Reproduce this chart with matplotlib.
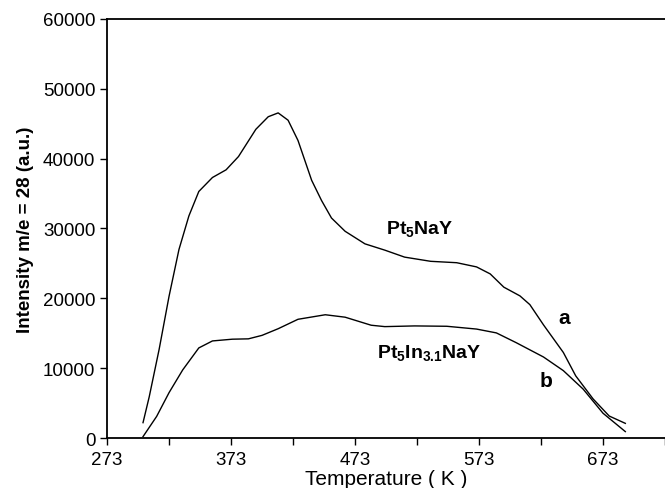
import matplotlib
matplotlib.use("Agg")
import matplotlib.pyplot as plt
import numpy as np

plt.rcParams["font.family"] = ["Liberation Sans", "DejaVu Sans"]
plt.rcParams["mathtext.fontset"] = "custom"
plt.rcParams["mathtext.rm"] = "Liberation Sans"
plt.rcParams["mathtext.bf"] = "Liberation Sans:bold"
plt.rcParams["mathtext.default"] = "bf"

# curve a : Pt5NaY
temp_a = [302, 307, 315, 323, 331, 339, 347, 358, 369, 379, 393, 403, 411, 419,
          427, 438, 446, 454, 465, 481, 497, 513, 534, 555, 571, 582, 593, 606,
          614, 625, 641, 651, 665, 678, 691]
int_a = [2200, 5900, 12700, 20300, 27000, 31800, 35300, 37300, 38400, 40300,
         44200, 46000, 46550, 45500, 42600, 36900, 34000, 31500, 29600, 27800,
         26900, 25900, 25300, 25100, 24500, 23500, 21600, 20350, 19100, 16200,
         12250, 8900, 5600, 3150, 2100]

# curve b : Pt5In3.1NaY
temp_b = [302, 313, 323, 334, 347, 358, 374, 387, 398, 411, 427, 449, 465, 486,
          497, 521, 547, 571, 587, 603, 625, 641, 657, 673, 691]
int_b = [200, 3100, 6500, 9750, 12900, 13900, 14150, 14200, 14700, 15650,
         17000, 17650, 17300, 16150, 15950, 16050, 16000, 15600, 15050, 13650,
         11600, 9650, 7000, 3550, 920]

xticks = [273, 373, 473, 573, 673]
xminor = [323, 423, 523, 623, 723]
yticks = [0, 10000, 20000, 30000, 40000, 50000, 60000]

fig = plt.figure(figsize=(6.65, 4.89), dpi=100)
ax = fig.add_axes([0.161, 0.1022, 0.839, 0.857])

ax.plot(temp_a, int_a, color="black", lw=1.0)
ax.plot(temp_b, int_b, color="black", lw=1.0)

ax.set_xlim(273, 719.4)
ax.set_ylim(0, 60000)
ax.spines["right"].set_visible(False)
for s in ["left", "bottom", "top"]:
    ax.spines[s].set_linewidth(1.3)

ax.set_xticks(xticks)
ax.set_xticks(xminor, minor=True)
ax.set_yticks(yticks)
ax.tick_params(axis="both", which="both", direction="out", length=5, width=1.0,
               labelsize=13.5)
ax.tick_params(axis="x", pad=4)

ax.set_xlabel("Temperature ( K )", fontsize=15, labelpad=1)
ax.set_ylabel("Intensity m/e = 28 (a.u.)", fontsize=13.5, fontweight="bold",
              labelpad=6)

ax.text(525, 30100, r"Pt$_{5}$NaY", fontsize=14, fontweight="bold",
        ha="center", va="center")
ax.text(533, 12300, r"Pt$_{5}$In$_{3.1}$NaY", fontsize=14, fontweight="bold",
        ha="center", va="center")
ax.text(642, 17200, "a", fontsize=15, fontweight="bold", ha="center", va="center")
ax.text(627, 8300, "b", fontsize=15, fontweight="bold", ha="center", va="center")

fig.savefig("out.png", dpi=100)
